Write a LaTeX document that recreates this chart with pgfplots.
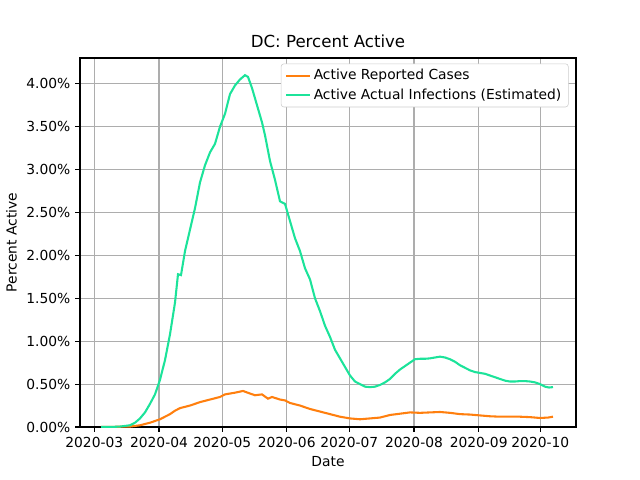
\documentclass[border=0pt]{standalone}
\usepackage{pgfplots}
\pgfplotsset{compat=1.18}
\usepackage{fontspec}
\setmainfont{DejaVu Sans}
\definecolor{mplorange}{HTML}{FF7F0E}
\definecolor{mplgreen}{HTML}{1CE39A}
\begin{document}
\begin{tikzpicture}
\path[use as bounding box] (-0.8in,-0.53in) rectangle (5.6in,4.27in);
\begin{axis}[
  scale only axis, width=4.96in, height=3.69in,
  xmin=80, xmax=576, ymin=0, ymax=4.30,
  xtick={94.3,159,222.3,286.7,349.3,414,478.7,540.3},
  xticklabels={2020-03,2020-04,2020-05,2020-06,2020-07,2020-08,2020-09,2020-10},
  ytick={0,0.5,1,1.5,2,2.5,3,3.5,4},
  yticklabels={0.00\%,0.50\%,1.00\%,1.50\%,2.00\%,2.50\%,3.00\%,3.50\%,4.00\%},
  grid=major, grid style={color=black!32, line width=0.8pt},
  tick align=outside, tick pos=left, tick style={black, line width=0.8pt},
  major tick length=3.5pt,
  axis line style={line width=0.8pt},
  ticklabel style={font=\fontsize{10}{12}\selectfont},
  /pgf/number format/assume math mode=true,
  xlabel={Date}, ylabel={Percent Active},
  label style={font=\fontsize{10}{12}\selectfont},
  title={DC: Percent Active},
  title style={font=\fontsize{12}{14}\selectfont, yshift=-2pt},
  legend style={at={(0.985,0.985)}, anchor=north east, font=\fontsize{10}{12}\selectfont, draw=black!20, rounded corners=2pt, row sep=1pt},
  legend cell align=left,
  legend image post style={line width=1.5pt},
]
\addplot[mplorange, line width=1.5pt] coordinates {
(101,0)(130,0.005)(140,0.02)(150,0.05)(160,0.09)(165,0.12)(170,0.15)(175,0.19)(180,0.22)(190,0.25)(200,0.29)(210,0.32)(220,0.35)(225,0.38)(235,0.4)(243,0.42)(250,0.39)(255,0.37)(262,0.38)(268,0.33)(272,0.35)(280,0.32)(285,0.31)(290,0.28)(300,0.25)(310,0.21)(320,0.18)(330,0.15)(340,0.12)(350,0.1)(360,0.09)(370,0.1)(380,0.11)(390,0.14)(400,0.155)(410,0.17)(420,0.165)(430,0.17)(440,0.175)(450,0.165)(460,0.15)(470,0.145)(480,0.135)(490,0.125)(500,0.12)(510,0.12)(520,0.12)(530,0.115)(540,0.105)(548,0.11)(553,0.12)
};
\addlegendentry{Active Reported Cases}
\addplot[mplgreen, line width=1.5pt] coordinates {
(101,0)(110,0)(120,0.005)(130,0.02)(135,0.05)(140,0.1)(145,0.17)(150,0.27)(155,0.38)(160,0.55)(165,0.78)(170,1.08)(175,1.45)(178,1.78)(181,1.77)(185,2.05)(190,2.3)(195,2.55)(200,2.85)(205,3.05)(210,3.2)(215,3.3)(220,3.5)(225,3.65)(230,3.88)(235,3.98)(240,4.05)(245,4.1)(248,4.08)(252,3.95)(257,3.75)(262,3.55)(265,3.4)(270,3.1)(275,2.88)(280,2.63)(285,2.6)(290,2.4)(295,2.2)(300,2.05)(305,1.85)(310,1.72)(315,1.5)(320,1.35)(325,1.18)(330,1.05)(335,0.9)(340,0.8)(345,0.7)(350,0.6)(355,0.53)(360,0.5)(365,0.47)(370,0.465)(375,0.47)(380,0.49)(385,0.52)(390,0.56)(395,0.62)(400,0.67)(405,0.71)(410,0.75)(415,0.79)(420,0.795)(425,0.795)(430,0.8)(435,0.81)(440,0.82)(445,0.81)(450,0.79)(455,0.76)(460,0.72)(465,0.69)(470,0.66)(475,0.64)(480,0.63)(485,0.62)(490,0.6)(495,0.58)(500,0.56)(505,0.54)(510,0.53)(515,0.53)(520,0.535)(525,0.535)(530,0.53)(535,0.52)(540,0.5)(545,0.47)(549,0.46)(553,0.465)
};
\addlegendentry{Active Actual Infections (Estimated)}
\end{axis}
\end{tikzpicture}
\end{document}
